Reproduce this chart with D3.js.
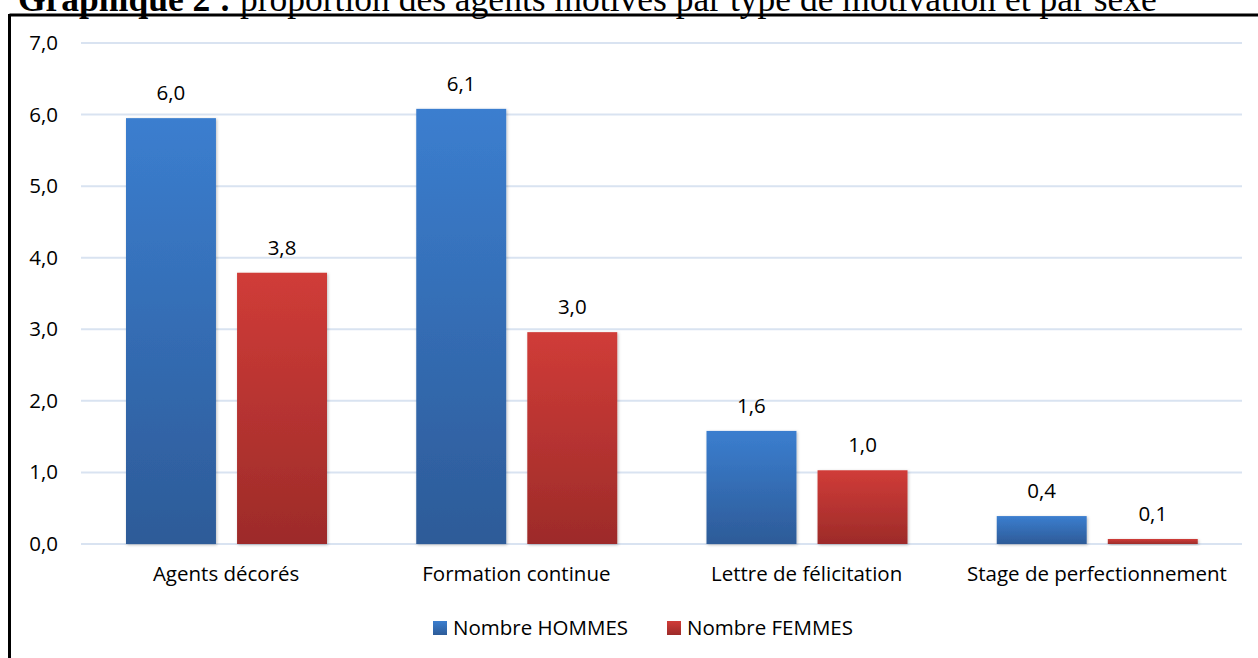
<!DOCTYPE html>
<html>
<head>
<meta charset="utf-8">
<script src="https://cdn.jsdelivr.net/npm/d3@7"></script>
<style>
  body { margin: 0; background: #fff; }
  #chart { width: 1258px; height: 658px; overflow: hidden; }
</style>
</head>
<body>
<div id="chart"></div>
<script>
// données
const categories = ["Agents décorés", "Formation continue", "Lettre de félicitation", "Stage de perfectionnement"];
const series = ["Nombre HOMMES", "Nombre FEMMES"];
const hommes = [5.95, 6.08, 1.58, 0.39];
const femmes = [3.79, 2.96, 1.03, 0.07];
const labelsHommes = ["6,0", "6,1", "1,6", "0,4"];
const labelsFemmes = ["3,8", "3,0", "1,0", "0,1"];
const yTicks = [0, 1, 2, 3, 4, 5, 6, 7];

const W = 1258, H = 658;
const plot = { left: 81, right: 1242, top: 43, bottom: 544 };
const font = "'Open Sans', 'Noto Sans', sans-serif";
const fs = "20.5px";

const svg = d3.select("#chart").append("svg")
  .attr("width", W).attr("height", H);

// dégradés des barres
const defs = svg.append("defs");
const grads = [
  { id: "gBlue", top: "#3b7ecf", bottom: "#2d5b98" },
  { id: "gRed", top: "#d03c38", bottom: "#9d2b29" }
];
grads.forEach(g => {
  const lg = defs.append("linearGradient").attr("id", g.id)
    .attr("x1", 0).attr("y1", 0).attr("x2", 0).attr("y2", 1);
  lg.append("stop").attr("offset", "0%").attr("stop-color", g.top);
  lg.append("stop").attr("offset", "100%").attr("stop-color", g.bottom);
});
const shadow = defs.append("filter").attr("id", "shadow")
  .attr("x", "-20%").attr("y", "-20%").attr("width", "140%").attr("height", "140%");
shadow.append("feDropShadow").attr("dx", 1).attr("dy", 1).attr("stdDeviation", 1.5)
  .attr("flood-color", "#000").attr("flood-opacity", 0.25);

// titre (coupé en haut, comme dans l'original)
svg.append("text")
  .attr("x", 18).attr("y", 11)
  .style("font-family", "'Liberation Serif', 'Times New Roman', serif")
  .style("font-size", "35.5px")
  .style("fill", "#000")
  .html("<tspan font-weight='bold'>Graphique 2 :</tspan> proportion des agents motivés par type de motivation et par sexe");

// cadre
svg.append("line").attr("x1", 9.5).attr("x2", W).attr("y1", 15).attr("y2", 15)
  .attr("stroke", "#000").attr("stroke-width", 3);
svg.append("line").attr("x1", 9.5).attr("x2", 9.5).attr("y1", 14).attr("y2", H)
  .attr("stroke", "#000").attr("stroke-width", 3);

// échelles
const x0 = d3.scaleBand().domain(categories).range([plot.left, plot.right]);
const x1 = d3.scaleBand().domain(series).range([45, 246]).paddingInner(0.19);
const y = d3.scaleLinear().domain([0, 7]).range([plot.bottom, plot.top]);

// grille
svg.append("g").selectAll("line").data(yTicks).enter().append("line")
  .attr("x1", plot.left).attr("x2", plot.right)
  .attr("y1", d => y(d)).attr("y2", d => y(d))
  .attr("stroke", "#d9e3f1").attr("stroke-width", 2);

// axe Y
const yAxis = svg.append("g")
  .attr("transform", `translate(${plot.left},0)`)
  .call(d3.axisLeft(y).tickValues(yTicks).tickSize(0).tickPadding(23)
    .tickFormat(d => d3.format(".1f")(d).replace(".", ",")));
yAxis.select(".domain").remove();
yAxis.selectAll("text")
  .style("font-family", font).style("font-size", fs).style("fill", "#000");

// axe X
const xAxis = svg.append("g")
  .attr("transform", `translate(0,${plot.bottom})`)
  .call(d3.axisBottom(x0).tickSize(0).tickPadding(22));
xAxis.select(".domain").remove();
xAxis.selectAll("text")
  .style("font-family", font).style("font-size", fs).style("fill", "#000");

// barres
const rows = categories.map((c, i) => ({
  cat: c,
  vals: [
    { s: series[0], v: hommes[i], lab: labelsHommes[i], fill: "url(#gBlue)" },
    { s: series[1], v: femmes[i], lab: labelsFemmes[i], fill: "url(#gRed)" }
  ]
}));

const groups = svg.append("g").selectAll("g").data(rows).enter().append("g")
  .attr("transform", d => `translate(${x0(d.cat)},0)`);

groups.selectAll("rect").data(d => d.vals).enter().append("rect")
  .attr("x", d => x1(d.s))
  .attr("width", x1.bandwidth())
  .attr("y", d => y(d.v))
  .attr("height", d => y(0) - y(d.v))
  .attr("fill", d => d.fill)
  .attr("filter", "url(#shadow)");

groups.selectAll("text").data(d => d.vals).enter().append("text")
  .attr("x", d => x1(d.s) + x1.bandwidth() / 2)
  .attr("y", d => y(d.v) - 18)
  .attr("text-anchor", "middle")
  .style("font-family", font).style("font-size", fs).style("fill", "#000")
  .text(d => d.lab);

// légende
const legendItems = [
  { name: series[0], fill: "url(#gBlue)", x: 433 },
  { name: series[1], fill: "url(#gRed)", x: 667 }
];
const legend = svg.append("g").selectAll("g").data(legendItems).enter().append("g")
  .attr("transform", d => `translate(${d.x},621)`);
legend.append("rect").attr("width", 14).attr("height", 14).attr("fill", d => d.fill);
legend.append("text")
  .attr("x", 20).attr("y", 7).attr("dy", "0.35em")
  .style("font-family", font).style("font-size", fs).style("fill", "#000")
  .text(d => d.name);
</script>
</body>
</html>
